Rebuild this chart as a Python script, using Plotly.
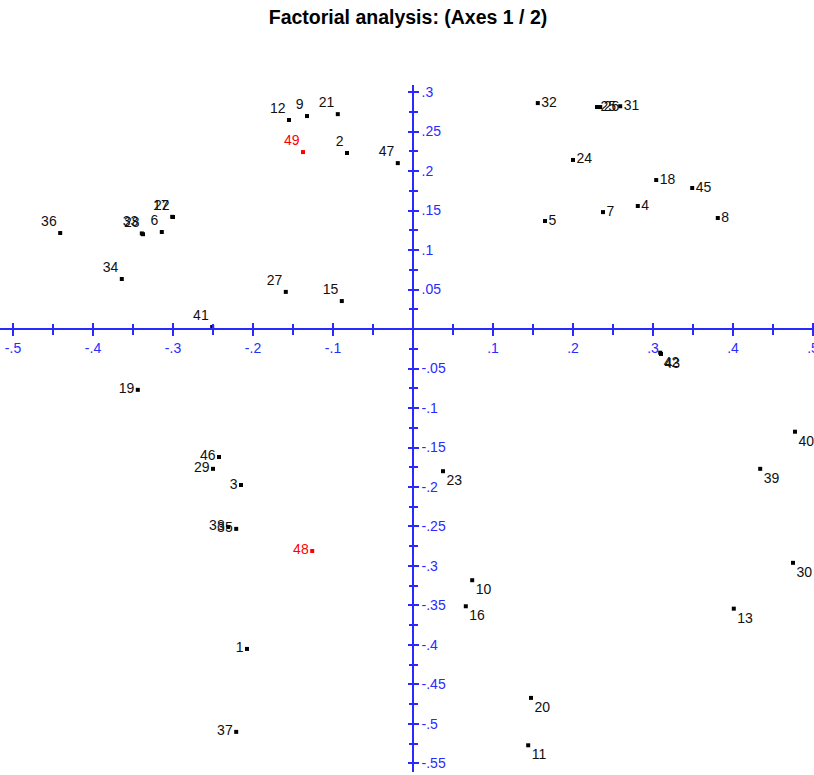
import plotly.graph_objects as go

# ---- data -------------------------------------------------------------
labels = ["1", "2", "3", "4", "5", "6", "7", "8", "9", "10",
          "11", "12", "13", "15", "16", "17", "18", "19", "20",
          "21", "22", "23", "24", "25", "26", "27", "28", "29", "30",
          "31", "32", "33", "34", "35", "36", "37", "38", "39", "40",
          "41", "42", "43", "45", "46", "47", "48", "49"]
axis1 = [-0.2075, -0.0825, -0.215, 0.281, 0.165, -0.314, 0.2375, 0.381, -0.1325, 0.074,
         0.144, -0.155, 0.401, -0.089, 0.066, -0.301, 0.304, -0.344, 0.1475,
         -0.094, -0.300, 0.0375, 0.200, 0.230, 0.234, -0.159, -0.3375, -0.250, 0.475,
         0.259, 0.156, -0.339, -0.364, -0.221, -0.441, -0.221, -0.231, 0.434, 0.4775,
         -0.251, 0.309, 0.310, 0.349, -0.2425, -0.019, -0.126, -0.1375]
axis2 = [-0.405, 0.2228, -0.1975, 0.1557, 0.1367, 0.1228, 0.148, 0.1405, 0.2696, -0.318,
         -0.527, 0.2646, -0.354, 0.0354, -0.351, 0.142, 0.1886, -0.077, -0.467,
         0.272, 0.1418, -0.180, 0.214, 0.281, 0.281, 0.047, 0.120, -0.177, -0.296,
         0.282, 0.286, 0.121, 0.0633, -0.253, 0.1215, -0.510, -0.2506, -0.177, -0.130,
         0.0025, -0.030, -0.0316, 0.1785, -0.162, 0.210, -0.281, 0.224]
highlighted = ["48", "49"]

x_tickvals = [-0.5, -0.4, -0.3, -0.2, -0.1, 0.1, 0.2, 0.3, 0.4, 0.5]
x_ticktext = ["-.5", "-.4", "-.3", "-.2", "-.1", ".1", ".2", ".3", ".4", ".5"]
x_minor = [-0.45, -0.35, -0.25, -0.15, -0.05, 0.05, 0.15, 0.25, 0.35, 0.45]
y_tickvals = [0.3, 0.25, 0.2, 0.15, 0.1, 0.05, -0.05, -0.1, -0.15, -0.2, -0.25,
              -0.3, -0.35, -0.4, -0.45, -0.5, -0.55]
y_ticktext = [".3", ".25", ".2", ".15", ".1", ".05", "-.05", "-.1", "-.15", "-.2", "-.25",
              "-.3", "-.35", "-.4", "-.45", "-.5", "-.55"]
y_minor = [0.275, 0.225, 0.175, 0.125, 0.075, 0.025, -0.025, -0.075, -0.125, -0.175,
           -0.225, -0.275, -0.325, -0.375, -0.425, -0.475, -0.525]

# ---- styles -----------------------------------------------------------
label_pos = {}
for lab in ["2", "6", "9", "12", "15", "17", "21", "22", "27", "28", "33", "34",
            "36", "41", "47", "49"]:
    label_pos[lab] = "top left"
for lab in ["1", "3", "19", "29", "35", "37", "38", "46", "48"]:
    label_pos[lab] = "middle left"
for lab in ["4", "5", "7", "8", "18", "24", "25", "26", "31", "32", "45"]:
    label_pos[lab] = "middle right"
for lab in ["10", "11", "13", "16", "20", "23", "30", "39", "40", "42", "43"]:
    label_pos[lab] = "bottom right"

BLUE = "#2a2aff"
FONT = "Liberation Sans, Arial"
XR = [-0.51625, 0.50125]
YR = [-0.5608, 0.3089]
xpos = (0 - XR[0]) / (XR[1] - XR[0])
ypos = (0 - YR[0]) / (YR[1] - YR[0])

colors = ["#ff0000" if l in highlighted else "#000000" for l in labels]
tcolors = ["#ff0000" if l in highlighted else "#101010" for l in labels]
positions = [label_pos.get(l, "top left") for l in labels]

fig = go.Figure()
fig.add_trace(go.Scatter(
    x=axis1, y=axis2, mode="markers+text", text=labels,
    textposition=positions,
    textfont=dict(family=FONT, size=14, color=tcolors),
    marker=dict(symbol="square", size=4, color=colors),
    hoverinfo="text", showlegend=False, cliponaxis=False))
# invisible trace for overlay axes
fig.add_trace(go.Scatter(x=[0], y=[0], xaxis="x2", yaxis="y2", mode="markers",
                         marker=dict(opacity=0), showlegend=False, hoverinfo="skip"))

tick_font = dict(family=FONT, size=14, color=BLUE)

fig.update_layout(
    width=814, height=775,
    margin=dict(l=0, r=0, t=85, b=3),
    paper_bgcolor="white", plot_bgcolor="white",
    title=dict(text="<b>Factorial analysis: (Axes 1 / 2)</b>", x=408 / 814, xanchor="center",
               y=1 - 17 / 775, yanchor="middle",
               font=dict(family=FONT, size=19.5, color="#000000")),
    xaxis=dict(range=XR, anchor="free", position=ypos, side="bottom", automargin=False,
               showgrid=False, zeroline=False, showline=True, linecolor=BLUE, linewidth=1.5,
               ticks="outside", ticklen=6, tickwidth=1.5, tickcolor=BLUE,
               tickmode="array", tickvals=x_tickvals, ticktext=x_ticktext,
               ticklabeloverflow="allow",
               minor=dict(tickmode="array", tickvals=x_minor, ticks="outside",
                          ticklen=5, tickwidth=1.5, tickcolor=BLUE, showgrid=False),
               tickfont=tick_font, fixedrange=True),
    xaxis2=dict(range=XR, overlaying="x", anchor="free", position=ypos, side="top",
                automargin=False,
                showgrid=False, zeroline=False, showline=False,
                ticks="outside", ticklen=6, tickwidth=1.5, tickcolor=BLUE,
                tickmode="array", tickvals=x_tickvals, showticklabels=False,
                minor=dict(tickmode="array", tickvals=x_minor, ticks="outside",
                           ticklen=5, tickwidth=1.5, tickcolor=BLUE, showgrid=False)),
    yaxis=dict(range=YR, anchor="free", position=xpos, side="right", automargin=False,
               showgrid=False, zeroline=False, showline=True, linecolor=BLUE, linewidth=1.5,
               ticks="outside", ticklen=5, tickwidth=1.5, tickcolor=BLUE,
               tickmode="array", tickvals=y_tickvals, ticktext=y_ticktext,
               ticklabeloverflow="allow",
               minor=dict(tickmode="array", tickvals=y_minor, ticks="outside",
                          ticklen=4, tickwidth=1.5, tickcolor=BLUE, showgrid=False),
               tickfont=tick_font, fixedrange=True),
    yaxis2=dict(range=YR, overlaying="y", anchor="free", position=xpos, side="left",
                automargin=False,
                showgrid=False, zeroline=False, showline=False,
                ticks="outside", ticklen=5, tickwidth=1.5, tickcolor=BLUE,
                tickmode="array", tickvals=y_tickvals, showticklabels=False,
                minor=dict(tickmode="array", tickvals=y_minor, ticks="outside",
                           ticklen=4, tickwidth=1.5, tickcolor=BLUE, showgrid=False)),
)

fig.write_html("out.html", config={"displayModeBar": False},
               post_script="document.body.style.margin='0';")
